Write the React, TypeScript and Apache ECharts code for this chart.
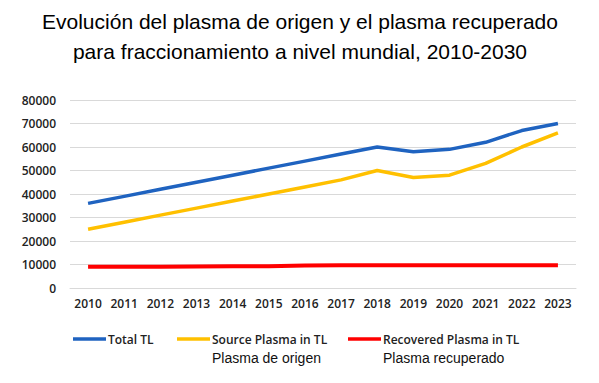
import React, { useEffect, useRef } from "react";
import * as echarts from "echarts";

const years = ["2010","2011","2012","2013","2014","2015","2016","2017","2018","2019","2020","2021","2022","2023"];
const totalTL = [36000,39000,42000,45000,48000,51000,54000,57000,60000,58000,59000,62000,67000,70000];
const sourceTL = [25000,28000,31000,34000,37000,40000,43000,46000,50000,47000,48000,53000,60000,66000];
const recoveredTL = [9000,9000,9000,9200,9300,9300,9600,9700,9700,9700,9700,9700,9700,9700];
const seriesNames = ["Total TL", "Source Plasma in TL", "Recovered Plasma in TL"];
const seriesSub = ["", "Plasma de origen", "Plasma recuperado"];
const colors = ["#1F63C0", "#FFC000", "#FF0000"];
const titleLines = ["Evolución del plasma de origen y el plasma recuperado", "para fraccionamiento a nivel mundial, 2010-2030"];

export default function App() {
  const ref = useRef<HTMLDivElement>(null);
  useEffect(() => {
    if (!ref.current) return;
    const chart = echarts.init(ref.current, null, { renderer: "svg" });
    const legendX = [73, 177, 348];
    const graphic: any[] = [];
    seriesNames.forEach((n, i) => {
      graphic.push({
        type: "line",
        shape: { x1: legendX[i], y1: 339, x2: legendX[i] + 33, y2: 339 },
        style: { stroke: colors[i], lineWidth: 3.5 },
      });
      graphic.push({
        type: "text",
        x: legendX[i] + 35,
        y: 339,
        style: { text: n, fill: "#222", font: "600 12px 'Open Sans'", textVerticalAlign: "middle" },
      });
      if (seriesSub[i]) {
        graphic.push({
          type: "text",
          x: legendX[i] + 35,
          y: 358,
          style: { text: seriesSub[i], fill: "#111", font: "14px 'Liberation Sans'", textVerticalAlign: "middle" },
        });
      }
    });
    titleLines.forEach((t, i) => {
      graphic.push({
        type: "text",
        x: 300,
        y: 21 + i * 30,
        style: { text: t, fill: "#000", font: "21px 'Liberation Sans'", textAlign: "center", textVerticalAlign: "middle" },
      });
    });
    chart.setOption({
      animation: false,
      grid: { left: 70, right: 23, top: 100, bottom: 95, containLabel: false },
      xAxis: {
        type: "category",
        data: years,
        boundaryGap: true,
        axisLine: { lineStyle: { color: "#d9d9d9" } },
        axisTick: { show: false },
        axisLabel: { color: "#222", fontFamily: "Open Sans", fontWeight: 600, fontSize: 12, margin: 9 },
      },
      yAxis: {
        type: "value",
        min: 0,
        max: 80000,
        interval: 10000,
        axisLine: { show: false },
        axisTick: { show: false },
        splitLine: { lineStyle: { color: "#d9d9d9" } },
        axisLabel: { color: "#222", fontFamily: "Open Sans", fontWeight: 600, fontSize: 12, margin: 14, formatter: (v: number) => String(v) },
      },
      series: [totalTL, sourceTL, recoveredTL].map((d, i) => ({
        name: seriesNames[i],
        type: "line",
        data: d,
        symbol: "none",
        lineStyle: { color: colors[i], width: i === 2 ? 4 : 3.5 },
        itemStyle: { color: colors[i] },
      })),
      graphic,
    });
    return () => chart.dispose();
  }, []);
  return <div ref={ref} style={{ width: 599, height: 383, position: "absolute", left: 0, top: 0, background: "#fff" }} />;
}
